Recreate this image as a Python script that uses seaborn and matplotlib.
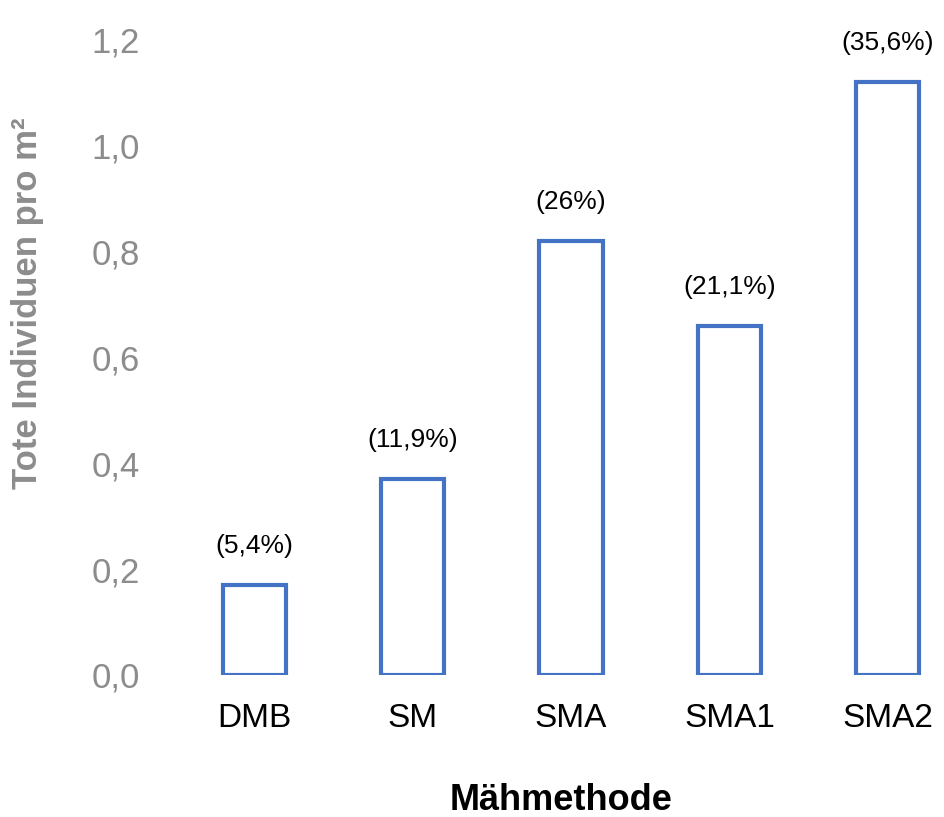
import matplotlib
matplotlib.use("Agg")
import matplotlib.pyplot as plt
import seaborn as sns
import pandas as pd

# Werte
methoden = ["DMB", "SM", "SMA", "SMA1", "SMA2"]
tote = [0.17, 0.37, 0.82, 0.66, 1.12]
anteil = ["(5,4%)", "(11,9%)", "(26%)", "(21,1%)", "(35,6%)"]

df = pd.DataFrame({"Mähmethode": methoden, "tote": tote})

sns.set_style("white")
plt.rcParams["font.family"] = ["Liberation Sans", "DejaVu Sans"]

fig = plt.figure(figsize=(9.45, 8.17), dpi=100)
ax = fig.add_axes([190 / 945, (817 - 675) / 817, 750 / 945, 635 / 817])

sns.barplot(data=df, x="Mähmethode", y="tote", ax=ax, color="#4472C4",
            fill=False, linewidth=3, width=0.4, errorbar=None)

for i, (v, t) in enumerate(zip(tote, anteil)):
    ax.annotate(t, xy=(i, v), xytext=(0, 28), textcoords="offset points",
                ha="center", va="center", fontsize=19, color="black")

ax.set_xlim(-0.407, 4.33)
ax.set_ylim(0, 1.2)
ax.set_yticks([0, 0.2, 0.4, 0.6, 0.8, 1.0, 1.2])
ax.set_yticklabels(["0,0", "0,2", "0,4", "0,6", "0,8", "1,0", "1,2"])
ax.tick_params(axis="y", length=0, pad=36, labelsize=25, labelcolor="#8c8c8c")
ax.tick_params(axis="x", length=0, pad=20, labelsize=24, labelcolor="black")
sns.despine(ax=ax, left=True, bottom=True)

ax.set_ylabel("Tote Individuen pro m²", fontsize=25, fontweight="bold",
              color="#8c8c8c", va="center")
ax.yaxis.set_label_coords((28 - 190) / 750, (675 - 303) / 635)
ax.set_xlabel("Mähmethode", fontsize=26, fontweight="bold", color="black",
              va="center")
ax.xaxis.set_label_coords((561 - 190) / 750, (675 - 800) / 635)

fig.savefig("out.png", dpi=100)
